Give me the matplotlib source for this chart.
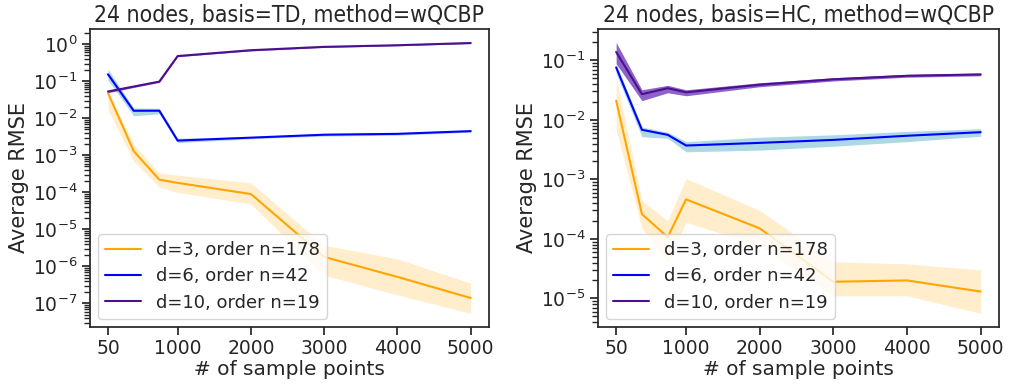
import matplotlib
matplotlib.use("Agg")
import matplotlib.pyplot as plt
from matplotlib.ticker import LogLocator
import seaborn as sns
import numpy as np

sns.set_theme(style="ticks")
plt.rcParams['font.family'] = ['DejaVu Sans']

x = [50, 400, 750, 1000, 2000, 3000, 4000, 5000]
labels = ["d=3, order n=178", "d=6, order n=42", "d=10, order n=19"]
xticks = [50, 1000, 2000, 3000, 4000, 5000]

# Left: basis=TD
td_d3 = [0.048, 0.0013, 2.2e-4, 1.8e-4, 9e-5, 1.8e-6, 5.2e-7, 1.4e-7]
td_d3_lo = [0.017, 6.9e-4, 1.4e-4, 1.0e-4, 4.8e-5, 5.8e-7, 1.7e-7, 5.4e-8]
td_d3_hi = [0.055, 0.0020, 3.3e-4, 2.9e-4, 1.8e-4, 3.7e-6, 1.6e-6, 3.5e-7]
td_d6 = [0.154, 0.016, 0.016, 0.0025, 0.0030, 0.0036, 0.0038, 0.0045]
td_d6_lo = [0.108, 0.0117, 0.0132, 0.0022, 0.0028, 0.0033, 0.0035, 0.0042]
td_d6_hi = [0.21, 0.019, 0.0185, 0.0029, 0.0032, 0.0039, 0.0041, 0.0048]
td_d10 = [0.053, 0.072, 0.098, 0.48, 0.69, 0.85, 0.94, 1.08]
td_d10_lo = [0.049, 0.068, 0.093, 0.46, 0.66, 0.82, 0.91, 1.04]
td_d10_hi = [0.057, 0.076, 0.103, 0.50, 0.72, 0.88, 0.97, 1.12]

# Right: basis=HC
hc_d3 = [0.021, 2.6e-4, 1.07e-4, 4.6e-4, 1.5e-4, 1.9e-5, 2.0e-5, 1.3e-5]
hc_d3_lo = [0.0068, 1.5e-4, 4.1e-5, 1.9e-4, 7.7e-5, 1.1e-5, 1.1e-5, 5.6e-6]
hc_d3_hi = [0.053, 4.4e-4, 2.0e-4, 1.03e-3, 3.0e-4, 4.1e-5, 3.8e-5, 3.0e-5]
hc_d6 = [0.076, 0.0068, 0.0056, 0.0037, 0.0041, 0.0046, 0.0054, 0.0062]
hc_d6_lo = [0.060, 0.0052, 0.0049, 0.0029, 0.0031, 0.0036, 0.0043, 0.0053]
hc_d6_hi = [0.088, 0.0076, 0.0062, 0.0043, 0.0051, 0.0056, 0.0064, 0.0071]
hc_d10 = [0.138, 0.027, 0.034, 0.029, 0.039, 0.048, 0.055, 0.058]
hc_d10_lo = [0.088, 0.021, 0.0285, 0.0254, 0.036, 0.045, 0.052, 0.055]
hc_d10_hi = [0.20, 0.032, 0.038, 0.032, 0.042, 0.051, 0.058, 0.061]

line_colors = ["orange", "blue", "#4b0f8f"]
fill_colors = [(1.0, 0.647, 0.0, 0.2), "lightblue", "#8c63c9"]

fig = plt.figure(figsize=(10.1, 3.85), dpi=100)
ax1 = fig.add_axes([0.089, 0.151, 0.395, 0.774])
ax2 = fig.add_axes([0.592, 0.151, 0.397, 0.774])

panels = [
    (ax1, "24 nodes, basis=TD, method=wQCBP",
     [(td_d3, td_d3_lo, td_d3_hi), (td_d6, td_d6_lo, td_d6_hi), (td_d10, td_d10_lo, td_d10_hi)]),
    (ax2, "24 nodes, basis=HC, method=wQCBP",
     [(hc_d3, hc_d3_lo, hc_d3_hi), (hc_d6, hc_d6_lo, hc_d6_hi), (hc_d10, hc_d10_lo, hc_d10_hi)]),
]

for ax, title, series in panels:
    for (m, lo, hi), lab, lc, fc in zip(series, labels, line_colors, fill_colors):
        ax.fill_between(x, lo, hi, color=fc, linewidth=0)
        ax.plot(x, m, color=lc, lw=1.5, label=lab)
    ax.set_yscale("log")
    ax.yaxis.set_major_locator(LogLocator(base=10, numticks=30))
    ax.yaxis.set_minor_locator(LogLocator(base=10, subs=np.arange(2, 10), numticks=30))
    ax.set_xticks(xticks)
    ax.set_xticklabels([str(t) for t in xticks])
    ax.tick_params(labelsize=13.5, pad=3)
    ax.set_xlabel("# of sample points", fontsize=14.5, labelpad=1)
    ax.set_ylabel("Average RMSE", fontsize=15, labelpad=3)
    ax.set_title(title, fontsize=16.5, fontstretch="condensed", pad=5)
    ax.legend(loc="lower left", fontsize=13, borderaxespad=0.45,
              handlelength=2.0, handletextpad=0.8, labelspacing=0.45)

fig.savefig("out.png", dpi=100)
